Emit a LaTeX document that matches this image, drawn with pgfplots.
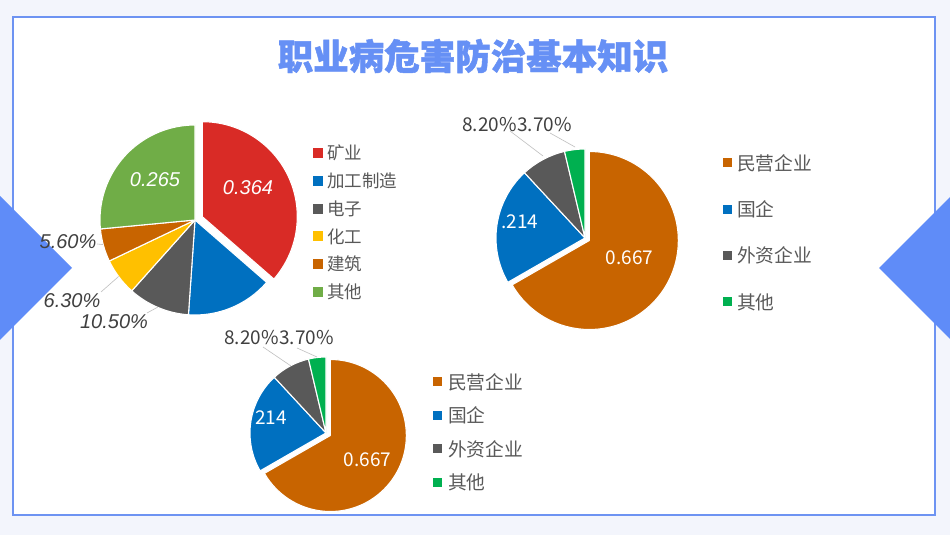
\documentclass[border=0pt]{standalone}
\usepackage{pgfplots}
\usepackage{pgfplotstable}
\pgfplotsset{compat=1.18}
\usepackage{fontspec}
\setmainfont{Liberation Sans}
\newfontfamily\cjk{Noto Sans CJK SC}
\newfontfamily\titlefont[BoldFeatures={FakeBold=1.3}]{Noto Sans CJK SC}
\newfontfamily\lib{Liberation Sans}

\definecolor{cRed}{HTML}{D92B26}
\definecolor{cBlue}{HTML}{0070C0}
\definecolor{cGrey}{HTML}{595959}
\definecolor{cYellow}{HTML}{FFC000}
\definecolor{cOrange}{HTML}{C86400}
\definecolor{cGreen}{HTML}{70AD47}
\definecolor{cGreenB}{HTML}{00B050}
\definecolor{frameBlue}{HTML}{6D93F2}
\definecolor{titleBlue}{HTML}{6690F5}
\definecolor{triBlue}{HTML}{5F8CF8}
\definecolor{txt}{HTML}{595959}
\definecolor{lbl}{HTML}{404040}
\definecolor{bgc}{HTML}{F3F5FC}

% pie 1: industry
\pgfplotstableread{
name value color explode
矿业 0.364 cRed 8
加工制造 0.147 cBlue 0
电子 0.105 cGrey 0
化工 0.063 cYellow 0
建筑 0.056 cOrange 0
其他 0.265 cGreen 0
}\pieA
% pie 2 and 3: enterprise type
\pgfplotstableread{
name value color explode
民营企业 0.667 cOrange 5
国企 0.214 cBlue 0
外资企业 0.082 cGrey 0
其他 0.037 cGreenB 0
}\pieB

% #1 table, #2 last row, #3 cx, #4 cy, #5 radius
\newcommand\drawpie[5]{%
  \def\angStart{90}%
  \pgfplotsforeachungrouped \i in {0,...,#2}{%
    \pgfplotstablegetelem{\i}{value}\of#1\let\val\pgfplotsretval
    \pgfplotstablegetelem{\i}{color}\of#1\let\col\pgfplotsretval
    \pgfplotstablegetelem{\i}{explode}\of#1\let\ex\pgfplotsretval
    \pgfmathsetmacro\angEnd{\angStart-360*\val}%
    \pgfmathsetmacro\angMid{(\angStart+\angEnd)/2}%
    \pgfmathsetmacro\ox{#3+\ex*cos(\angMid)}%
    \pgfmathsetmacro\oy{#4+\ex*sin(\angMid)}%
    \edef\tmp{\noexpand\filldraw[fill=\col,draw=white,line width=1.1pt,line join=round]
      (axis cs:\ox,\oy) -- ++(\angStart:#5pt)
      arc[start angle=\angStart,end angle=\angEnd,radius=#5pt] -- cycle;}%
    \tmp
    \let\angStart\angEnd
  }%
}
% #1 table, #2 last row, #3 x square, #4 square size, #5 x text, #6 y first, #7 step, #8 style
\newcommand\drawlegend[8]{%
  \pgfplotsforeachungrouped \i in {0,...,#2}{%
    \pgfplotstablegetelem{\i}{name}\of#1\let\nm\pgfplotsretval
    \pgfplotstablegetelem{\i}{color}\of#1\let\col\pgfplotsretval
    \pgfmathsetmacro\ly{#6-#7*\i}%
    \pgfmathsetmacro\lyb{\ly-#4/2}%
    \edef\tmp{\noexpand\fill[\col] (axis cs:#3,\lyb) rectangle ++(#4pt,#4pt);
      \noexpand\node[#8,anchor=west,inner sep=0pt] at (axis cs:#5,\ly) {\nm};}%
    \tmp
  }%
}

\tikzset{
  leg1/.style={font=\cjk\fontsize{17.5}{20}\selectfont,text=txt},
  leg2/.style={font=\cjk\fontsize{18.75}{21}\selectfont,text=txt},
  pctA/.style={font=\lib\itshape\fontsize{20}{22}\selectfont,text=lbl,inner sep=0pt},
  inA/.style={font=\lib\itshape\fontsize{20}{22}\selectfont,text=white,inner sep=0pt},
  pctB/.style={font=\cjk\fontsize{19}{21}\selectfont,text=lbl,inner sep=0pt},
  inB/.style={font=\cjk\fontsize{19}{21}\selectfont,text=white,inner sep=0pt},
  leader/.style={draw=black!25,line width=0.6pt},
}

\begin{document}
\begin{tikzpicture}
\begin{axis}[x=1pt,y=1pt,xmin=0,xmax=950,ymin=0,ymax=535,
  hide axis,clip=false,scale only axis]
% background and frame
\fill[bgc] (axis cs:0,0) rectangle (axis cs:950,535);
\filldraw[fill=white,draw=frameBlue,line width=2.6pt] (axis cs:13,20) rectangle (axis cs:935,518);
% side triangles
\fill[triBlue] (axis cs:0,339) -- (axis cs:72,267) -- (axis cs:0,195) -- cycle;
\fill[triBlue] (axis cs:950,338) -- (axis cs:879,267) -- (axis cs:950,196) -- cycle;
% title
\node[font=\titlefont\bfseries\fontsize{35.5}{40}\selectfont,text=titleBlue] at (axis cs:473,479) {职业病危害防治基本知识};

% pie 1
\drawpie{\pieA}{5}{195}{315}{95}
\drawlegend{\pieA}{5}{313}{10}{327}{382}{27.8}{leg1}
\node[inA] at (axis cs:248,347) {0.364};
\node[inA] at (axis cs:155,355) {0.265};
\draw[leader] (axis cs:97,291) -- (axis cs:103,290.4);
\draw[leader] (axis cs:101,243) -- (axis cs:118.6,258.5);
\draw[leader] (axis cs:147,222) -- (axis cs:158,228);
\node[pctA] at (axis cs:68,293) {5.60\%};
\node[pctA] at (axis cs:72,234) {6.30\%};
\node[pctA] at (axis cs:114,213) {10.50\%};

% pie 2
\drawpie{\pieB}{3}{585}{297}{89}
\drawlegend{\pieB}{3}{723}{9}{737}{372}{46.3}{leg2}
\draw[leader] (axis cs:510,404) -- (axis cs:543,379);
\draw[leader] (axis cs:550,402) -- (axis cs:575,388);
\node[pctB,anchor=east] at (axis cs:517,410) {8.20\%};
\node[pctB,anchor=west] at (axis cs:517,410) {3.70\%};
\node[inB,anchor=west] at (axis cs:501,313) {.214};
\node[inB] at (axis cs:629.5,277) {0.667};

% pie 3
\drawpie{\pieB}{3}{326}{102}{76}
\drawlegend{\pieB}{3}{433}{9}{448}{153}{33.5}{leg2}
\draw[leader] (axis cs:263,188) -- (axis cs:291,169);
\draw[leader] (axis cs:297,187) -- (axis cs:317,178);
\node[pctB,anchor=east] at (axis cs:279,197) {8.20\%};
\node[pctB,anchor=west] at (axis cs:279,197) {3.70\%};
\node[inB,anchor=west] at (axis cs:255,117) {214};
\node[inB] at (axis cs:367.5,75) {0.667};
\end{axis}
\end{tikzpicture}
\end{document}
